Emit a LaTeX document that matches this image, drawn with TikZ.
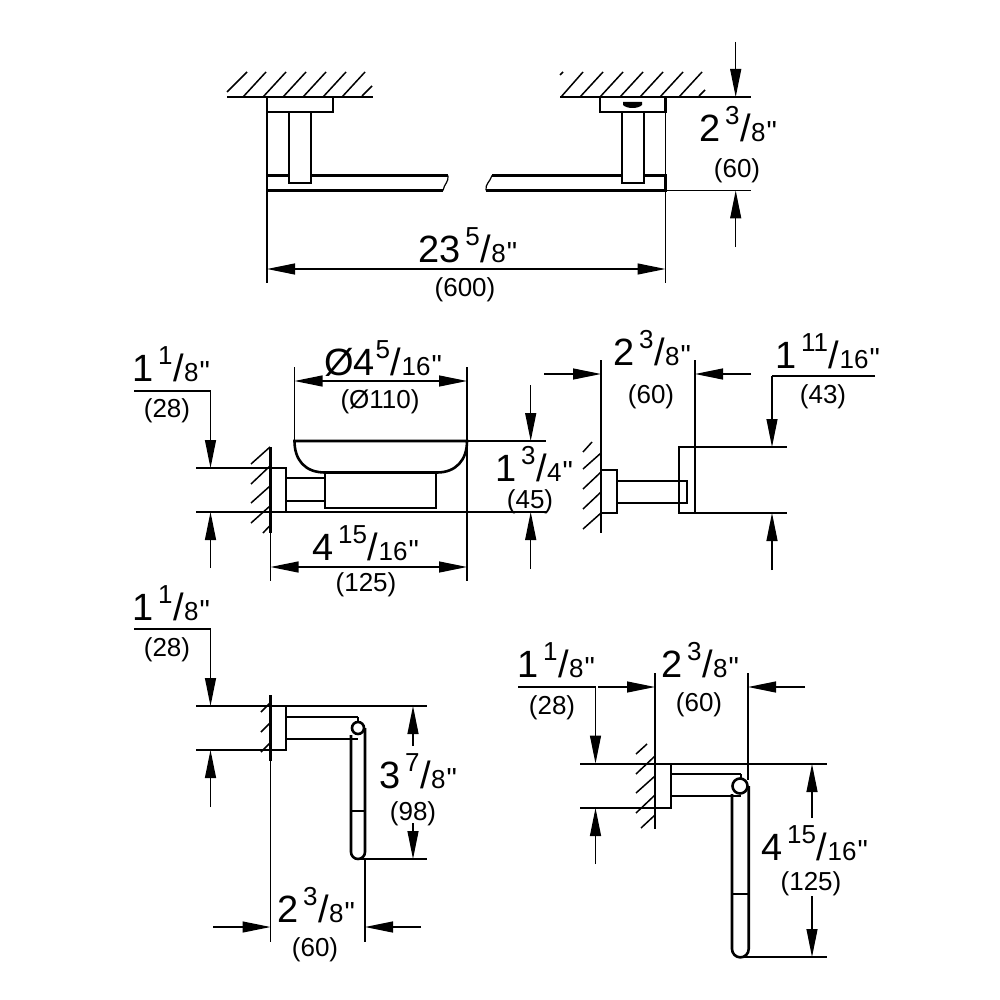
\documentclass[tikz,border=0pt]{standalone}
\usepackage{fontspec}
\setmainfont{Liberation Sans}
\newfontfamily\plainquote{Liberation Sans}
\usetikzlibrary{arrows.meta}
\newcommand{\szA}{\fontsize{38}{38}\selectfont}
\newcommand{\szB}{\fontsize{26}{26}\selectfont}
\newcommand{\szC}{\fontsize{29}{29}\selectfont}
\newcommand{\szD}{\fontsize{26}{26}\selectfont}
\newcommand{\dimfrac}[3]{{\szA #1}\kern5pt\raisebox{17pt}{\szB #2}{\szA\kern0.5pt/\kern0.5pt}{\szB #3}{\plainquote\szC\kern1pt\symbol{34}}}
\tikzset{
  thin line/.style={line width=1.2pt},
  part/.style={line width=2.6pt,line cap=butt,line join=miter},
  solid part/.style={part,fill=white},
  hatch/.style={line width=1.5pt},
  dimline/.style={line width=1.2pt,-{Triangle[length=28pt,width=11pt]}},
  dimboth/.style={line width=1.2pt,{Triangle[length=28pt,width=11pt]}-{Triangle[length=28pt,width=11pt]}},
  bigtext/.style={anchor=base west,inner sep=0pt,outer sep=0pt},
  smalltext/.style={anchor=base,inner sep=0pt,outer sep=0pt,font=\szD},
}
\begin{document}
\begin{tikzpicture}[x=1pt,y=-1pt]
\useasboundingbox[fill=white] (0,0) rectangle (1000,1000);

% ---------- towel bar, left half
\draw[part] (227,97) -- (373,97);
\foreach \a/\b in {243/266,263/286,283/306,303/326,323/346,342/365}
  \draw[hatch] (\a,97) -- (\b,72);
\draw[hatch] (227,92) -- (247,72);
\draw[hatch] (362,96) -- (372,86);
\draw[part] (448,175.5) -- (267,175.5) -- (267,190.5) -- (443,190.5);
\draw[thin line] (448,175.5) .. controls (449,182) and (444,184) .. (443,190.5);
\draw[solid part] (267,97) rectangle (333,112);
\draw[solid part] (289,112) rectangle (311,183);
\draw[thin line] (267,97) -- (267,283);
% ---------- towel bar, right half
\draw[part] (560,97) -- (705,97);
\draw[thin line] (705,97) -- (751,97);
\foreach \a/\b in {561/583,580/603,600/623,620/643,640/663,660/683,679/702}
  \draw[hatch] (\a,97) -- (\b,72);
\draw[hatch] (560,75) -- (563,72);
\draw[hatch] (699,96) -- (705,90);
\draw[part] (492,175.5) -- (665.5,175.5) -- (665.5,190.5) -- (486,190.5);
\draw[thin line] (492,175.5) .. controls (490,182) and (485,184) .. (486,190.5);
\draw[solid part] (600,97) rectangle (665.5,112);
\fill[black] (623,102) -- (642,102) -- (642,105) .. controls (638,109) and (627,109) .. (623,105) -- cycle;
\draw[solid part] (622,112) rectangle (644,183);
\draw[thin line] (665.5,97) -- (665.5,283);
\draw[thin line] (665.5,190.5) -- (751,190.5);
\draw[dimline] (735.7,42) -- (735.7,97);
\draw[dimline] (735.7,247) -- (735.7,190.5);
\draw[dimboth] (267,269) -- (665.5,269);
\node[bigtext] (t1) at (418,262) {\dimfrac{23}{5}{8}};
\node[smalltext] (t1b) at (465,296) {(600)};
\node[bigtext] (t2) at (699,142) {\dimfrac{2}{3}{8}};
\node[smalltext] (t2b) at (737,178) {(60)};

% ---------- soap dish
\draw[part] (270.5,447) -- (270.5,533);
\foreach \ya/\yb in {464/447,484/466,503/486,523/506}
  \draw[hatch] (251,\ya) -- (270,\yb);
\draw[hatch] (263,533) -- (270.5,525);
\draw[part] (270.5,468) rectangle (286,512);
\draw[part] (286,478) -- (325,478);
\draw[part] (286,501) -- (325,501);
\draw[part] (325,473) rectangle (436,508);
\draw[part,fill=white] (294.5,441) -- (467,441) .. controls (467,460) and (456,472.5) .. (437,472.5) -- (325,472.5) .. controls (305,472.5) and (294.5,460) .. (294.5,441) -- cycle;
\draw[thin line] (196,468) -- (270.5,468);
\draw[thin line] (196,512) -- (547,512);
\draw[thin line] (467,441) -- (546,441);
\draw[thin line] (294.5,367) -- (294.5,441);
\draw[thin line] (467,367) -- (467,581);
\draw[thin line] (270.5,533) -- (270.5,581);
\draw[thin line] (134,391) -- (210.5,391);
\draw[dimline] (210.5,391) -- (210.5,468);
\draw[dimline] (210.5,568) -- (210.5,512);
\draw[dimboth] (294.5,381) -- (467,381);
\draw[dimboth] (270.5,567) -- (467,567);
\draw[dimline] (530.7,385) -- (530.7,441);
\draw[dimline] (530.7,569) -- (530.7,512);
\node[bigtext] (t3) at (132,381) {\dimfrac{1}{1}{8}};
\node[smalltext] (t3b) at (167,417) {(28)};
\node[bigtext] (t4) at (324,375) {{\szA Ø4}\kern1pt\raisebox{17pt}{\szB 5}{\szA\kern0.5pt/\kern0.5pt}{\szB 16}{\plainquote\szC\kern1pt\symbol{34}}};
\node[smalltext] (t4b) at (380,408) {(Ø110)};
\node[bigtext] (t5) at (312,560) {\dimfrac{4}{15}{16}};
\node[smalltext] (t5b) at (366,591) {(125)};
\node[bigtext] (t6) at (495,481) {\dimfrac{1}{3}{4}};
\node[smalltext] (t6b) at (530,508) {(45)};

% ---------- hook
\draw[part] (601,442) -- (601,533);
\draw[thin line] (601,360) -- (601,442);
\draw[hatch] (583,452) -- (592,442);
\foreach \ya/\yb in {469/453,489/472,509/492,529/513}
  \draw[hatch] (583,\ya) -- (601,\yb);
\draw[part] (601,470) rectangle (617,513);
\draw[part] (617,481) -- (687,481) -- (687,503) -- (617,503);
\draw[part] (679,447) rectangle (695,513);
\draw[thin line] (695,360) -- (695,447);
\draw[thin line] (695,447) -- (787,447);
\draw[thin line] (695,513) -- (787,513);
\draw[dimline] (544,374) -- (601,374);
\draw[dimline] (751,374) -- (695,374);
\draw[thin line] (875,376) -- (772,376);
\draw[dimline] (772,376) -- (772,447);
\draw[dimline] (772,570) -- (772,513);
\node[bigtext] (t7) at (613,365) {\dimfrac{2}{3}{8}};
\node[smalltext] (t7b) at (651,403) {(60)};
\node[bigtext] (t8) at (775,368) {\dimfrac{1}{11}{16}};
\node[smalltext] (t8b) at (823,403) {(43)};

% ---------- paper holder, left
\draw[part] (270.5,695) -- (270.5,761);
\draw[thin line] (270.5,761) -- (270.5,942);
\foreach \ya/\yb in {712/703,732/723,752/743}
  \draw[hatch] (261,\ya) -- (270,\yb);
\draw[part] (270.5,706) rectangle (286,750);
\draw[part] (286,717) -- (358,717);
\draw[part] (286,739) -- (358,739);
\draw[part] (358,717) -- (358,722);
\draw[part] (365,728) -- (365,852) arc[start angle=0,end angle=180,radius=7] -- (351,735);
\draw[part] (351,811) -- (365,811);
\draw[part,fill=white] (358,728) circle[radius=6];
\draw[thin line] (365,859) -- (365,942);
\draw[thin line] (358,859) -- (427,859);
\draw[thin line] (196,706) -- (427,706);
\draw[thin line] (196,750) -- (270.5,750);
\draw[thin line] (134,629) -- (210.5,629);
\draw[dimline] (210.5,629) -- (210.5,706);
\draw[dimline] (210.5,807) -- (210.5,750);
\draw[dimline] (413,746) -- (413,706);
\draw[dimline] (413,823) -- (413,859);
\draw[dimline] (213,927) -- (270.5,927);
\draw[dimline] (421,927) -- (365,927);
\node[bigtext] (t9) at (132,620) {\dimfrac{1}{1}{8}};
\node[smalltext] (t9b) at (167,656) {(28)};
\node[bigtext] (t10) at (379,788) {\dimfrac{3}{7}{8}};
\node[smalltext] (t10b) at (413,820) {(98)};
\node[bigtext] (t11) at (277,922) {\dimfrac{2}{3}{8}};
\node[smalltext] (t11b) at (315,956) {(60)};

% ---------- paper holder, right
\draw[part] (655,743) -- (655,829);
\draw[thin line] (655,673) -- (655,743);
\draw[hatch] (636,754) -- (647,744);
\foreach \ya/\yb in {774/756,793/776,813/795}
  \draw[hatch] (636,\ya) -- (655,\yb);
\draw[hatch] (641,828) -- (655,815);
\draw[part] (655,764) rectangle (671,808);
\draw[part] (671,774) -- (741,774);
\draw[part] (671,796) -- (741,796);
\draw[part] (741,774) -- (741,779);
\draw[part] (748.7,786) -- (748.7,949) arc[start angle=0,end angle=180,radius=8.35] -- (732,794);
\draw[part] (732,894) -- (748.7,894);
\draw[part,fill=white] (740,786) circle[radius=7.5];
\draw[thin line] (748,673) -- (748,780);
\draw[thin line] (740,957) -- (827,957);
\draw[thin line] (580,764) -- (827,764);
\draw[thin line] (580,808) -- (655,808);
\draw[thin line] (518,687) -- (595.5,687);
\draw[dimline] (595.5,687) -- (595.5,763.5);
\draw[dimline] (595.5,864) -- (595.5,808);
\draw[dimline] (598,687) -- (655,687);
\draw[dimline] (805,687) -- (748,687);
\draw[dimline] (812,818) -- (812,764);
\draw[dimline] (812,896) -- (812,957);
\node[bigtext] (t12) at (517,677) {\dimfrac{1}{1}{8}};
\node[smalltext] (t12b) at (552,714) {(28)};
\node[bigtext] (t13) at (661,677) {\dimfrac{2}{3}{8}};
\node[smalltext] (t13b) at (699,711) {(60)};
\node[bigtext] (t14) at (761,860) {\dimfrac{4}{15}{16}};
\node[smalltext] (t14b) at (811,890) {(125)};
\end{tikzpicture}
\end{document}
